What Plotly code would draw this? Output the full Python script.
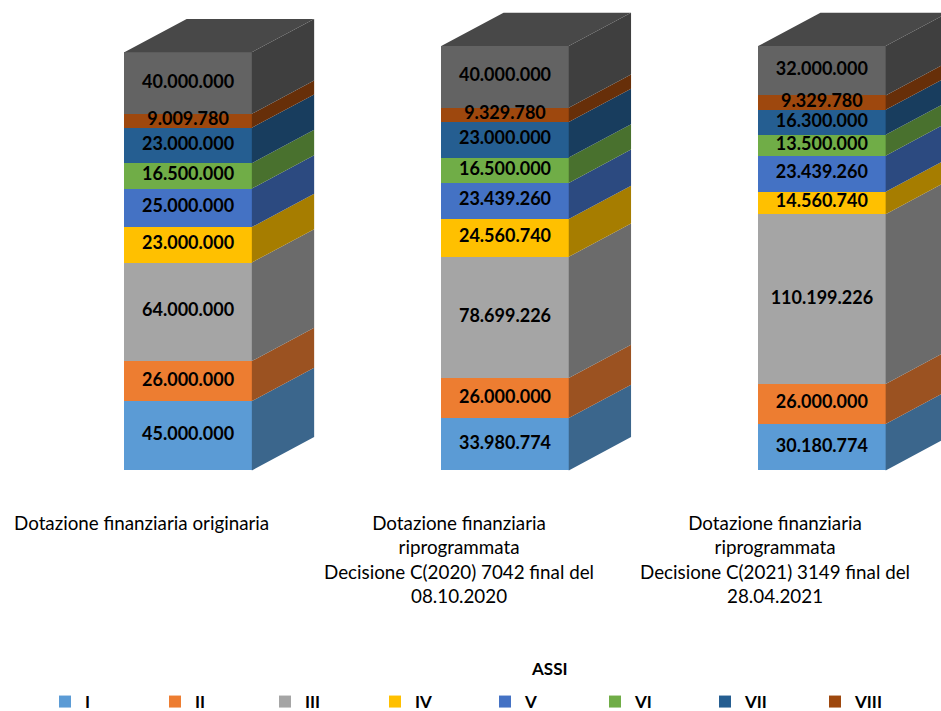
import plotly.graph_objects as go

# ---------------- data ----------------
categories = [
    "Dotazione finanziaria originaria",
    "Dotazione finanziaria<br>riprogrammata<br>Decisione C(2020) 7042 final del<br>08.10.2020",
    "Dotazione finanziaria<br>riprogrammata<br>Decisione C(2021) 3149 final del<br>28.04.2021",
]
series_names = ["I", "II", "III", "IV", "V", "VI", "VII", "VIII", "IX"]
asse_I    = [45000000, 33980774, 30180774]
asse_II   = [26000000, 26000000, 26000000]
asse_III  = [64000000, 78699226, 110199226]
asse_IV   = [23000000, 24560740, 14560740]
asse_V    = [25000000, 23439260, 23439260]
asse_VI   = [16500000, 16500000, 13500000]
asse_VII  = [23000000, 23000000, 16300000]
asse_VIII = [9009780, 9329780, 9329780]
asse_IX   = [40000000, 40000000, 32000000]
series_values = [asse_I, asse_II, asse_III, asse_IV, asse_V, asse_VI, asse_VII, asse_VIII, asse_IX]
legend_title = "ASSI"

# ---------------- styles ----------------
front_colors = ["#5B9BD5", "#ED7D31", "#A5A5A5", "#FFC000", "#4472C4",
                "#70AD47", "#255E91", "#9E480E", "#636363"]
side_colors = ["#3B668C", "#9B5221", "#6B6B6B", "#A67D00", "#2C4A80",
               "#49712E", "#183D5E", "#672F09", "#3F3F3F"]
top_color = "#484848"
FONT = "Lato"

W, H = 941, 711
px_per_unit_x = 316.9
x_zero_px = 188.1
base_px = 470.4
px_per_M = 1.54
bar_w = 127.5 / px_per_unit_x
depth_x = 62.3 / px_per_unit_x
depth_y = 33.3 / px_per_M

xs = list(range(len(categories)))

def fmt(v):
    return f"{v:,}".replace(",", ".")

fig = go.Figure()

# front faces
for name, vals, col in zip(series_names, series_values, front_colors):
    fig.add_trace(go.Bar(
        x=xs, y=[v / 1e6 for v in vals], name=name, width=bar_w,
        marker=dict(color=col, line=dict(width=0)),
        showlegend=(name != "IX"), hoverinfo="skip",
    ))

# side faces and labels computed from the stacked data
cum = [0.0] * len(xs)
lab_x, lab_y, lab_t = [], [], []
for name, vals, scol in zip(series_names, series_values, side_colors):
    px, py = [], []
    for i, v in enumerate(vals):
        y0 = cum[i]
        y1 = y0 + v / 1e6
        xr = xs[i] + bar_w / 2
        px += [xr, xr + depth_x, xr + depth_x, xr, xr, None]
        py += [y0, y0 + depth_y, y1 + depth_y, y1, y0, None]
        lab_x.append(xs[i]); lab_y.append((y0 + y1) / 2); lab_t.append(fmt(v))
        cum[i] = y1
    fig.add_trace(go.Scatter(
        x=px, y=py, mode="lines", fill="toself", fillcolor=scol,
        line=dict(width=0, color=scol), showlegend=False, hoverinfo="skip",
    ))

# top faces
tx, ty = [], []
for i in xs:
    xl = xs[i] - bar_w / 2
    xr = xs[i] + bar_w / 2
    t = cum[i]
    tx += [xl, xl + depth_x, xr + depth_x, xr, xl, None]
    ty += [t, t + depth_y, t + depth_y, t, t, None]
fig.add_trace(go.Scatter(
    x=tx, y=ty, mode="lines", fill="toself", fillcolor=top_color,
    line=dict(width=0, color=top_color), showlegend=False, hoverinfo="skip",
))

# data labels
fig.add_trace(go.Scatter(
    x=lab_x, y=lab_y, text=lab_t, mode="text", showlegend=False, hoverinfo="skip",
    textfont=dict(family=FONT, size=18, color="#000000", weight="bold"),
))

# category labels
label_offset = -46.5 / px_per_unit_x
for i, c in enumerate(categories):
    fig.add_annotation(
        x=xs[i] + label_offset, xref="x", y=1 - 509 / H, yref="paper",
        text=c, showarrow=False, xanchor="center", yanchor="top", align="center",
        font=dict(family=FONT, size=18.8, color="#000000"),
    )

fig.add_annotation(
    x=549 / W, xref="paper", y=1 - 668 / H, yref="paper", text=legend_title,
    showarrow=False, xanchor="center", yanchor="middle",
    font=dict(family=FONT, size=17, color="#000000", weight="bold"),
)

fig.update_layout(
    width=W, height=H, barmode="stack", bargap=0,
    margin=dict(l=0, r=0, t=0, b=0, pad=0, autoexpand=False),
    paper_bgcolor="white", plot_bgcolor="white",
    xaxis=dict(visible=False, range=[-x_zero_px / px_per_unit_x, (W - x_zero_px) / px_per_unit_x],
               fixedrange=True),
    yaxis=dict(visible=False, range=[-(H - base_px) / px_per_M, base_px / px_per_M],
               fixedrange=True),
    legend=dict(orientation="h", x=45 / W, xanchor="left", y=1 - 702 / H, yanchor="middle",
                entrywidth=65, entrywidthmode="pixels", traceorder="normal",
                font=dict(family=FONT, size=17, color="#000000", weight="bold"),
                bgcolor="rgba(0,0,0,0)"),
    showlegend=True,
)

fig.write_html(
    "out.html",
    config={"displayModeBar": False},
    post_script="document.body.style.margin='0';document.body.style.overflow='hidden';",
)
